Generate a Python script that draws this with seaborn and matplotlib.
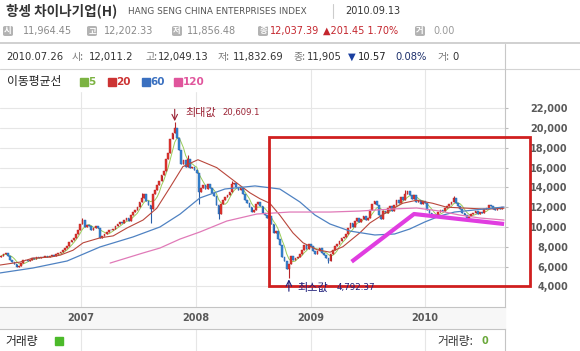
import numpy as np
import pandas as pd
import matplotlib
matplotlib.use('Agg')
import matplotlib.pyplot as plt
import matplotlib.dates as mdates
from matplotlib.patches import Rectangle, FancyBboxPatch
import seaborn as sns

# weekly closes (weeks ending 2006-04-21 .. 2010-09-10)
first_open = 7000
closes = [
    7100, 7250, 7350, 7100, 6700, 6500, 6250, 6000, 6050, 6400,
    6650, 6700, 6550, 6700, 6850, 6800, 6950, 6900, 7000, 6950,
    7050, 7000, 7100, 7150, 7100, 7250, 7350, 7450, 7650, 7900,
    8100, 8450, 8700, 8900, 9300, 9700, 10300, 10700, 10000, 10150,
    10050, 9700, 9900, 10100, 9900, 8900, 9100, 9300, 9500, 9700,
    9650, 9800, 10100, 10300, 10500, 10400, 10700, 10900, 10600, 11200,
    11500, 11700, 12000, 12500, 12900, 13300, 12600, 12200, 11800, 13300,
    13700, 14200, 14600, 15300, 15700, 16900, 17500, 18900, 19500, 20000,
    19000, 17800, 16400, 16800, 16100, 16900, 16000, 16100, 15800, 15500,
    13500, 13900, 14200, 13800, 14300, 13900, 13400, 13100, 12200, 11300,
    12300, 12700, 13000, 13200, 13500, 14300, 14400, 14000, 13700, 13900,
    13300, 12700, 12400, 12000, 11500, 11700, 12300, 12500, 12100, 11400,
    11200, 10900, 11100, 10300, 9400, 9600, 8800, 8200, 7000, 6600,
    5800, 6300, 7100, 6700, 6900, 6950, 7300, 7700, 8200, 7800,
    8300, 8100, 7600, 7300, 7600, 7900, 7400, 7200, 6900, 6600,
    7300, 7700, 8100, 8300, 8600, 8900, 9000, 9300, 9900, 10400,
    10000, 10600, 10900, 10500, 10800, 11100, 10700, 10900, 11700, 12300,
    12600, 12200, 11200, 10800, 11600, 11400, 11900, 12100, 11600, 12200,
    12700, 12400, 13000, 12700, 13300, 13600, 13200, 12800, 13200, 12500,
    12700, 12300, 12600, 12400, 11700, 11400, 11000, 11200, 11100, 11500,
    11700, 11600, 11900, 12100, 12300, 12500, 12900, 12400, 12100, 11800,
    11400, 11200, 10900, 11100, 11300, 11400, 11600, 11300, 11500, 11400,
    11800, 11900, 12200, 12100, 11800, 11700, 11900, 11800, 12037.39,
]
# visible wicks (week index -> price)
wick_high = {37: 10900, 64: 13400, 79: 20609.1, 85: 17300, 105: 14600, 184: 13700, 206: 13100}
wick_low = {68: 10400, 90: 12300, 99: 10800, 131: 4792.37, 149: 6400}

# moving averages
ma20_dates = ['2006-04-17', '2006-06-20', '2006-07-31', '2006-09-24', '2006-10-26', '2006-12-06',
              '2007-01-07', '2007-03-02', '2007-04-13', '2007-05-27', '2007-07-17', '2007-08-30',
              '2007-10-11', '2007-11-21', '2008-01-08', '2008-03-08', '2008-05-11', '2008-06-22',
              '2008-07-24', '2008-08-24', '2008-09-25', '2008-11-06', '2008-12-08', '2009-01-21',
              '2009-03-04', '2009-04-14', '2009-06-07', '2009-07-09', '2009-09-01', '2009-10-22',
              '2009-12-05', '2010-01-25', '2010-03-11', '2010-05-14', '2010-07-16', '2010-09-10']
ma20_vals = [6150, 6450, 6850, 6950, 7150, 7650, 8400, 8900, 9100, 9900, 10700, 11900,
             14000, 16100, 16800, 16000, 14450, 13450, 12850, 12400, 11200, 9400, 8400, 7700,
             7450, 8000, 9400, 10400, 11500, 12400, 12700, 12400, 12000, 11900, 11800, 11900]
ma60_dates = ['2006-04-17', '2006-07-31', '2006-11-17', '2007-03-02', '2007-06-15', '2007-09-09',
              '2007-11-12', '2008-01-14', '2008-04-03', '2008-07-08', '2008-09-25', '2008-11-28',
              '2009-01-15', '2009-03-04', '2009-05-06', '2009-07-25', '2009-09-26', '2009-11-13',
              '2009-12-31', '2010-02-17', '2010-04-05', '2010-06-08', '2010-09-10']
ma60_vals = [5350, 5850, 6560, 7980, 8990, 10000, 11300, 12930, 13840, 14150, 13840, 12530,
             11210, 10300, 9590, 9190, 9290, 9790, 10500, 11110, 11510, 11720, 12020]
ma120_dates = ['2007-04-03', '2007-07-17', '2007-09-09', '2007-11-12', '2008-01-14', '2008-04-09',
               '2008-07-14', '2008-10-27', '2009-03-04', '2009-06-07', '2009-09-20', '2009-12-05',
               '2010-02-17', '2010-04-21', '2010-06-24', '2010-09-10']
ma120_vals = [6350, 7370, 7870, 8780, 9490, 10600, 11310, 11510, 11510, 11610, 11820, 11920,
              11610, 11210, 10910, 10700]

# hand drawn marks on the screenshot
trend_dates = ['2009-05-12', '2009-11-27', '2010-09-10']
trend_vals = [6490, 11310, 10300]
box_dates = ['2008-08-22', '2010-12-01']
box_vals = [4030, 19100]

yticks = list(range(4000, 22001, 2000))

sns.set_style('white')
plt.rcParams['font.family'] = ['Noto Sans CJK KR', 'DejaVu Sans']

W, H = 580, 351
def fx(x):
    return x / W
def fy(y):
    return 1 - y / H

fig = plt.figure(figsize=(W / 100, H / 100), dpi=100)
ax = fig.add_axes([0, fy(307), fx(505), (307 - 70) / H])
vax = fig.add_axes([0, 0, fx(505), (351 - 329) / H], sharex=ax)

week_end = pd.date_range('2006-04-21', periods=len(closes), freq='W-FRI')
df = pd.DataFrame({'date': week_end, 'close': closes})
df['open'] = [first_open] + closes[:-1]
df['body_lo'] = df[['open', 'close']].min(axis=1)
df['body_h'] = (df['close'] - df['open']).abs()
df['hi'] = df[['open', 'close']].max(axis=1)
df['lo'] = df['body_lo']
for k, v in wick_high.items():
    df.loc[k, 'hi'] = v
for k, v in wick_low.items():
    df.loc[k, 'lo'] = v
df['ma5'] = df['close'].rolling(5, min_periods=1).mean()
up = df['close'] >= df['open']
col = np.where(up, '#e0352b', '#3485d2')
edge = np.where(up, '#b5262a', '#2a5fa8')

grid_c = '#e6e6e6'
ax.set_xlim(pd.Timestamp('2006-04-17'), pd.Timestamp('2010-09-13'))
ax.set_ylim(1907, 25873)
ax.set_yticks(yticks)
ax.set_yticklabels([f'{t:,}' for t in yticks])
ax.xaxis.set_major_locator(mdates.YearLocator())
ax.xaxis.set_major_formatter(mdates.DateFormatter('%Y'))
ax.grid(True, color=grid_c, lw=0.8)
ax.set_axisbelow(True)

# moving averages
sns.lineplot(x=df['date'], y=df['ma5'], ax=ax, color='#9acd5a', lw=0.7, zorder=2.5)
sns.lineplot(x=pd.to_datetime(ma20_dates), y=ma20_vals, ax=ax, color='#b9473c', lw=0.8, zorder=4)
sns.lineplot(x=pd.to_datetime(ma60_dates), y=ma60_vals, ax=ax, color='#4f82c2', lw=0.9, zorder=4)
sns.lineplot(x=pd.to_datetime(ma120_dates), y=ma120_vals, ax=ax, color='#e07ab8', lw=0.9, zorder=4)
ax.set_xlabel('')
ax.set_ylabel('')

# candles
ax.vlines(df['date'], df['lo'], df['hi'], colors=edge, lw=0.8, zorder=2.9)
ax.bar(df['date'], df['body_h'], bottom=df['body_lo'],
       width=5.5, color=col, edgecolor=edge, linewidth=0.3, zorder=3)

# trend lines and box drawn on top
ax.plot(pd.to_datetime(trend_dates), trend_vals, color='#e03de0', lw=3, solid_capstyle='butt', zorder=7)
bx = mdates.date2num(pd.to_datetime(box_dates))
ax.add_patch(Rectangle((bx[0], box_vals[0]), bx[1] - bx[0], box_vals[1] - box_vals[0],
                       fill=False, ec='#d01f1f', lw=2, clip_on=False, zorder=8))

# max / min markers
pk = mdates.date2num(df['date'][79])
ax.annotate('', xy=(pk, 20700), xytext=(pk, 21900),
            arrowprops=dict(arrowstyle='->', color='#9b2335', lw=0.8, shrinkA=0, shrinkB=0), zorder=9)
ax.annotate('최대값', xy=(pk, 20609.1), xytext=(7.6, 6.8), textcoords='offset points',
            fontsize=8, color='#9b2335', va='center', zorder=9)
ax.annotate('20,609.1', xy=(pk, 20609.1), xytext=(34.2, 6.8), textcoords='offset points',
            fontsize=6.1, color='#9b2335', va='center', family='DejaVu Sans', zorder=9)
mn = mdates.date2num(df['date'][131])
ax.annotate('', xy=(mn, 4700), xytext=(mn, 3500),
            arrowprops=dict(arrowstyle='->', color='#1f1f7a', lw=0.8, shrinkA=0, shrinkB=0),
            annotation_clip=False, zorder=9)
ax.annotate('최소값', xy=(mn, 4792.37), xytext=(6.5, -6.5), textcoords='offset points',
            fontsize=8, color='#1f1f7a', va='center', zorder=9, annotation_clip=False)
ax.annotate('4,792.37', xy=(mn, 4792.37), xytext=(34.6, -6.5), textcoords='offset points',
            fontsize=6.3, color='#1f1f7a', va='center', family='DejaVu Sans', zorder=9,
            annotation_clip=False)

# axes styling
for s in ['left', 'top']:
    ax.spines[s].set_visible(False)
for s in ['right', 'bottom']:
    ax.spines[s].set_color('#c4c4c4')
ax.tick_params(axis='y', left=False, right=True, labelleft=False, labelright=True,
               length=2.5, color='#bbbbbb', pad=42.8, labelsize=7, labelcolor='#5a5a5a')
for lbl in ax.get_yticklabels():
    lbl.set_horizontalalignment('right')
    lbl.set_fontweight('bold')
    lbl.set_family('DejaVu Sans')
ax.tick_params(axis='x', length=0, pad=4.5, labelsize=7, labelcolor='#5a5a5a')
for lbl in ax.get_xticklabels():
    lbl.set_fontweight('bold')
    lbl.set_family('DejaVu Sans')

# volume strip
vax.set_ylim(0, 1)
vax.set_yticks([])
vax.grid(True, axis='x', color=grid_c, lw=0.8)
vax.tick_params(axis='x', length=0, labelbottom=False)
for s in ['left', 'bottom']:
    vax.spines[s].set_visible(False)
for s in ['right', 'top']:
    vax.spines[s].set_color('#c4c4c4')

# label band behind x tick labels
fig.patches.append(Rectangle((0, fy(329)), fx(505), (329 - 307) / H, color='#f7f7f7',
                             transform=fig.transFigure, zorder=-1))

# header
lat = 'DejaVu Sans'
fig.text(fx(6), fy(11), '항셍 차이나기업(H)', fontsize=9.8, fontweight='bold', color='#333333', va='center')
fig.text(fx(128), fy(11), 'HANG SENG CHINA ENTERPRISES INDEX', fontsize=6.4, color='#555555',
         family=lat, va='center')
fig.add_artist(plt.Line2D([fx(333), fx(333)], [fy(4), fy(18)], color='#cccccc', lw=0.8))
fig.text(fx(345), fy(11), '2010.09.13', fontsize=7, color='#333333', family=lat, va='center')

icons = [('시', 3), ('고', 87), ('저', 172), ('종', 258), ('거', 415)]
for ch, x0 in icons:
    fig.patches.append(FancyBboxPatch((fx(x0), fy(36)), fx(10), 10 / H,
                                      boxstyle='round,pad=0,rounding_size=0.004',
                                      fc='#b3b3b3', ec='none', transform=fig.transFigure, zorder=1))
    fig.text(fx(x0 + 5), fy(31), ch, fontsize=6, color='white', fontweight='bold',
             ha='center', va='center', zorder=2)
row2 = [('11,964.45', 23, '#8a8a8a'), ('12,202.33', 104, '#8a8a8a'), ('11,856.48', 187, '#8a8a8a'),
        ('12,037.39', 270, '#c4262e'), ('▲201.45 1.70%', 323, '#c4262e'), ('0.00', 433, '#9a9a9a')]
for t, x0, c in row2:
    fig.text(fx(x0), fy(31), t, fontsize=7, color=c, family=lat, va='center')

fig.add_artist(plt.Line2D([0, 1], [fy(43), fy(43)], color='#c8c8c8', lw=1.2))
fig.add_artist(plt.Line2D([0, 1], [fy(69), fy(69)], color='#d4d4d4', lw=0.8))
fig.add_artist(plt.Line2D([fx(504.5), fx(504.5)], [fy(44), fy(69)], color='#c8c8c8', lw=0.8))

row3 = [('2010.07.26', 6, '#333333', lat), ('시:', 72, '#777777', None), ('12,011.2', 89, '#333333', lat),
        ('고:', 145, '#777777', None), ('12,049.13', 158, '#333333', lat),
        ('저:', 218, '#777777', None), ('11,832.69', 233, '#333333', lat),
        ('종:', 293, '#777777', None), ('11,905', 307, '#333333', lat),
        ('▼', 348, '#1a3fa0', lat), ('10.57', 358, '#222222', lat),
        ('0.08%', 395, '#1c2f6b', lat), ('거:', 438, '#777777', None), ('0', 452, '#333333', lat)]
for t, x0, c, fam in row3:
    kw = {'family': fam} if fam else {}
    fig.text(fx(x0), fy(57), t, fontsize=7.2, color=c, va='center', **kw)

# legend of moving averages
fig.patches.append(Rectangle((0, fy(91)), fx(210), 21 / H, color='white',
                             transform=fig.transFigure, zorder=1))
fig.text(fx(7), fy(82), '이동평균선', fontsize=8.5, color='#222222', va='center', zorder=2)
leg = [('5', 80, '#7cb342'), ('20', 108, '#cc3333'), ('60', 142, '#3a70c0'), ('120', 174, '#e0559c')]
for t, x0, c in leg:
    fig.patches.append(Rectangle((fx(x0), fy(86)), fx(8), 8 / H, color=c,
                                 transform=fig.transFigure, zorder=2))
    fig.text(fx(x0 + 8.5), fy(82), t, fontsize=7.5, color=c, fontweight='bold',
             family=lat, va='center', zorder=2)

# volume labels
fig.text(fx(5), fy(341), '거래량', fontsize=8.5, color='#222222', va='center')
fig.patches.append(Rectangle((fx(55), fy(345)), fx(8), 8 / H, color='#4cba2a',
                             transform=fig.transFigure, zorder=2))
fig.text(fx(437), fy(341), '거래량:', fontsize=8.5, color='#333333', va='center')
fig.text(fx(482), fy(341), '0', fontsize=7, color='#6aa83a', fontweight='bold', family=lat, va='center')

fig.savefig('out.png', dpi=100)
